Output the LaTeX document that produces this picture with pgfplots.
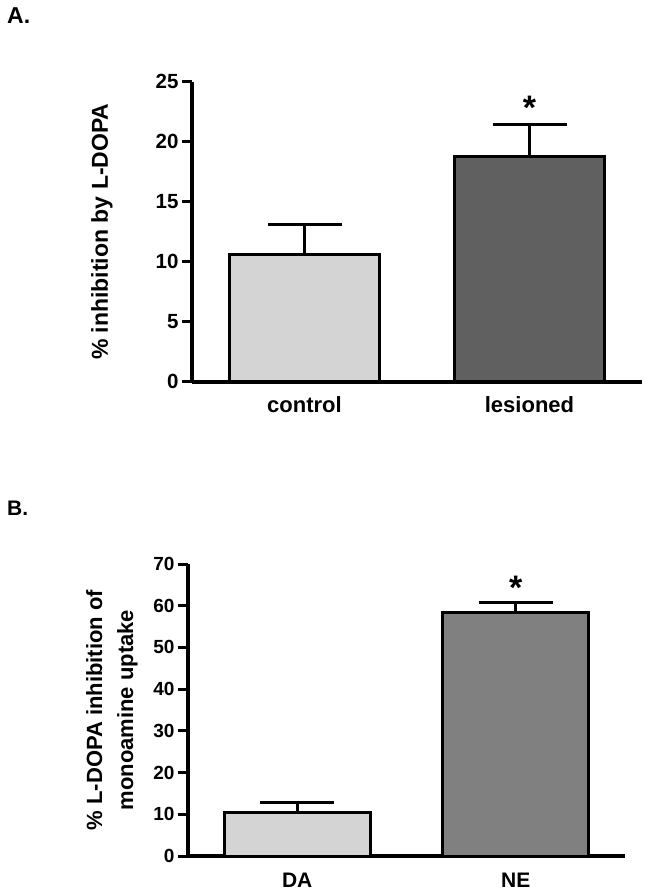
\documentclass[border=0pt]{standalone}
\usepackage{pgfplots}
\pgfplotsset{compat=1.18}
\usepackage{fontspec}
\setmainfont{Liberation Sans}
\definecolor{lightbar}{HTML}{D4D4D4}
\definecolor{darkbar}{HTML}{606060}
\definecolor{midbar}{HTML}{808080}
\begin{document}
\begin{tikzpicture}
\useasboundingbox (0pt,0pt) rectangle (649pt,892pt);
\pgfplotsset{
  myaxis/.style={
    scale only axis,
    axis x line*=bottom,
    axis y line*=left,
    axis line style={line width=4pt,-},
    xmin=0.5, xmax=2.5, ymin=0,
    xtick={1,2},
    xtick style={draw=none},
    tick align=outside,
    major tick length=10pt,
    ytick style={line width=3pt, black},
    /pgf/number format/assume math mode=true,
    clip=false,
  },
  mybar/.style={ybar, bar shift=0pt, bar width=0.667, draw=black, line width=3pt,
    error bars/y dir=plus, error bars/y explicit,
    error bars/error bar style={line width=3pt, black},
    error bars/error mark options={rotate=90, mark size=37pt, line width=3pt, black}},
}
\node[anchor=base west, font=\fontsize{23}{26}\selectfont\bfseries, inner sep=0pt] at (7pt,868pt) {A.};
\node[anchor=base west, font=\fontsize{21}{24}\selectfont\bfseries, inner sep=0pt] at (7pt,376pt) {B.};
\begin{axis}[myaxis,
  at={(192pt,510.3pt)}, anchor=south west,
  width=450pt, height=300pt,
  ymax=25, ytick={0,5,...,25},
  xticklabels={control,lesioned},
  yticklabel style={font=\fontsize{20.5}{24}\selectfont\bfseries},
  xticklabel style={font=\fontsize{22}{26}\selectfont\bfseries, anchor=base, yshift=-21pt},
  every axis y label/.style={at={(axis description cs:0,0.5)}, xshift=-90pt, rotate=90, anchor=center,
    font=\fontsize{23}{26}\selectfont\bfseries},
  ylabel={\% inhibition by L-DOPA},
]
\addplot[mybar, fill=lightbar] coordinates {(1,10.56) +- (0,2.5)};
\addplot[mybar, fill=darkbar] coordinates {(2,18.75) +- (0,2.65)};
\node[font=\fontsize{34}{36}\selectfont\bfseries, anchor=base] at (axis cs:2,21.85) {*};
\end{axis}
\begin{axis}[myaxis,
  at={(188pt,36pt)}, anchor=south west,
  width=437pt, height=292pt,
  ymax=70, ytick={0,10,...,70},
  xticklabels={DA,NE},
  yticklabel style={font=\fontsize{19}{22}\selectfont\bfseries},
  xticklabel style={font=\fontsize{21}{24}\selectfont\bfseries, anchor=base, yshift=-21pt},
  every axis y label/.style={at={(axis description cs:0,0.5)}, xshift=-76pt, rotate=90, anchor=center,
    font=\fontsize{22}{31}\selectfont\bfseries, align=center},
  ylabel={\% L-DOPA inhibition of\\monoamine uptake},
]
\addplot[mybar, fill=lightbar] coordinates {(1,10.4) +- (0,2.4)};
\addplot[mybar, fill=midbar] coordinates {(2,58.3) +- (0,2.5)};
\node[font=\fontsize{34}{36}\selectfont\bfseries, anchor=base] at (axis cs:2,61.5) {*};
\end{axis}
\end{tikzpicture}
\end{document}
